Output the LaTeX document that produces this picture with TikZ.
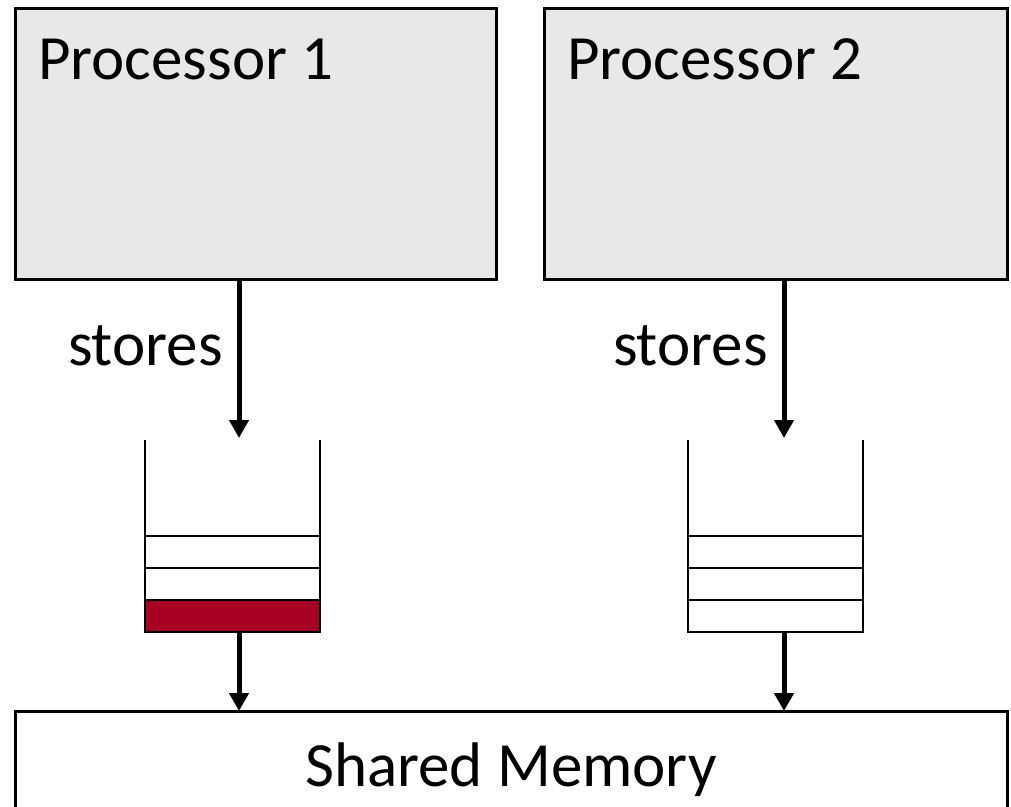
\documentclass[tikz,border=0pt]{standalone}
\usepackage{fontspec}
\setmainfont{Carlito}
\usetikzlibrary{arrows.meta}
\definecolor{procgray}{HTML}{E8E8E8}
\definecolor{slotred}{HTML}{A50021}
\tikzset{
  proc/.style={draw=black, line width=3pt, fill=procgray},
  mem/.style={draw=black, line width=3pt, fill=white},
  bufline/.style={draw=black, line width=2.5pt},
  flow/.style={line width=5pt, -{Triangle[width=19pt,length=18pt]}},
  lbl/.style={inner sep=0pt, font=\fontsize{63}{70}\selectfont}
}
\begin{document}
\begin{tikzpicture}[x=1pt, y=-1pt]
\useasboundingbox (0,0) rectangle (1011,806);
\begin{scope}
\clip (0,0) rectangle (1011,806);

% processor boxes
\draw[proc] (15,8) rectangle (496,279);
\draw[proc] (544,8) rectangle (1007,279);
\node[lbl, anchor=base west] (p1) at (38,79) {Processor 1};
\node[lbl, anchor=base west] (p2) at (567,79) {Processor 2};

% shared memory box (continues past the lower edge)
\draw[mem] (15,711) rectangle (1007,830);
\node[lbl, anchor=base] (mem) at (511,786) {Shared Memory};

% anchor points on box edges and buffers
\coordinate (p1out) at (239,279);
\coordinate (p2out) at (784,279);
\coordinate (b1in) at (239,438);
\coordinate (b2in) at (784,438);
\coordinate (b1out) at (239,632);
\coordinate (b2out) at (784,632);
\coordinate (m1in) at (239,711);
\coordinate (m2in) at (784,711);

% store buffer 1 (oldest entry highlighted)
\fill[slotred] (145,600) rectangle (320,632);
\draw[bufline] (145,440) -- (145,632) -- (320,632) -- (320,440);
\draw[bufline] (145,536) -- (320,536);
\draw[bufline] (145,568) -- (320,568);
\draw[bufline] (145,600) -- (320,600);

% store buffer 2
\draw[bufline] (688,440) -- (688,632) -- (863,632) -- (863,440);
\draw[bufline] (688,536) -- (863,536);
\draw[bufline] (688,568) -- (863,568);
\draw[bufline] (688,600) -- (863,600);

% store arrows
\draw[flow] (p1out) -- (b1in);
\draw[flow] (p2out) -- (b2in);
\draw[flow] (b1out) -- (m1in);
\draw[flow] (b2out) -- (m2in);
\node[lbl, anchor=base east] (s1) at (223,365) {stores};
\node[lbl, anchor=base east] (s2) at (768,365) {stores};
\end{scope}
\end{tikzpicture}
\end{document}
